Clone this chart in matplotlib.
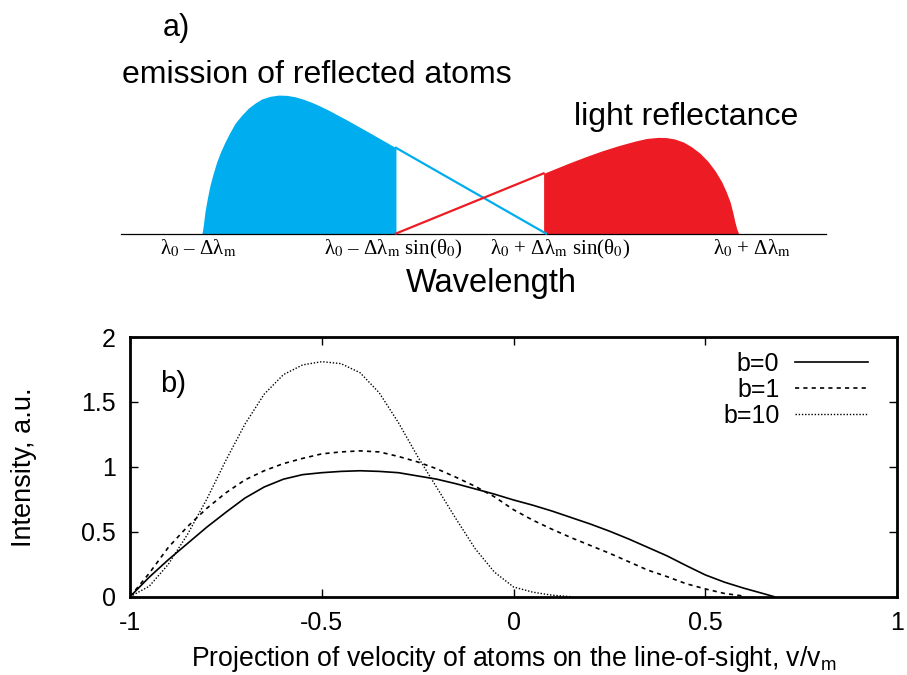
import matplotlib
matplotlib.use("Agg")
import matplotlib.pyplot as plt

plt.rcParams['font.family'] = ['Liberation Sans', 'DejaVu Sans']
plt.rcParams['mathtext.fontset'] = 'custom'
plt.rcParams['mathtext.rm'] = 'Liberation Sans'
plt.rcParams['mathtext.it'] = 'Liberation Sans:italic'

# ---- panel a: schematic (wavelength in units of dlambda_m, intensity normalised) ----
blue_u = [-1.0, -0.995, -0.989, -0.980, -0.970, -0.958, -0.945, -0.930, -0.914,
          -0.896, -0.877, -0.853, -0.828, -0.803, -0.778, -0.747, -0.716, -0.685,
          -0.654, -0.623, -0.592, -0.561, -0.530, -0.468, -0.406, -0.344, -0.279]
blue_v = [0.0, 0.06, 0.157, 0.255, 0.349, 0.435, 0.517, 0.592, 0.660,
          0.728, 0.793, 0.850, 0.901, 0.938, 0.968, 0.987, 0.996, 0.994,
          0.984, 0.966, 0.944, 0.917, 0.888, 0.824, 0.757, 0.689, 0.617]
red_u = [0.270, 0.362, 0.424, 0.486, 0.548, 0.610, 0.653, 0.696, 0.727, 0.758, 0.790,
         0.820, 0.852, 0.882, 0.908, 0.932, 0.949, 0.963, 0.973, 0.981, 0.988, 0.995]
red_v = [0.433, 0.505, 0.551, 0.594, 0.632, 0.665, 0.684, 0.692, 0.690, 0.680, 0.658,
         0.624, 0.577, 0.517, 0.450, 0.373, 0.300, 0.229, 0.155, 0.085, 0.035, 0.0]
sin_theta0 = 0.279
wl_labels = [r'λ$_0$ – Δλ$_\mathrm{m}$',
             r'λ$_0$ – Δλ$_\mathrm{m}$ sin(θ$_0$)',
             r'λ$_0$ + Δλ$_\mathrm{m}$ sin(θ$_0$)',
             r'λ$_0$ + Δλ$_\mathrm{m}$']

# ---- panel b: line-of-sight velocity profiles ----
x0 = [-1.0, -0.95, -0.9, -0.85, -0.8, -0.75, -0.7, -0.65, -0.6, -0.55, -0.5, -0.45,
      -0.4, -0.35, -0.3, -0.25, -0.2, -0.15, -0.1, -0.05, 0.0, 0.05, 0.1, 0.15, 0.2,
      0.25, 0.3, 0.35, 0.4, 0.45, 0.5, 0.55, 0.6, 0.65, 0.68]
b0 = [0.0, 0.15, 0.285, 0.41, 0.535, 0.65, 0.76, 0.845, 0.905, 0.94, 0.955, 0.965,
      0.97, 0.965, 0.955, 0.93, 0.905, 0.87, 0.83, 0.79, 0.745, 0.705, 0.66, 0.61, 0.56,
      0.505, 0.445, 0.38, 0.315, 0.24, 0.168, 0.112, 0.066, 0.025, 0.0]
x1 = [-1.0, -0.95, -0.9, -0.85, -0.8, -0.75, -0.7, -0.65, -0.6, -0.55, -0.5, -0.45,
      -0.4, -0.35, -0.3, -0.25, -0.2, -0.15, -0.1, -0.05, 0.0, 0.05, 0.1, 0.15, 0.2,
      0.25, 0.3, 0.35, 0.4, 0.45, 0.5, 0.55, 0.6]
b1 = [0.0, 0.18, 0.38, 0.54, 0.68, 0.80, 0.90, 0.97, 1.025, 1.065, 1.10, 1.115,
      1.123, 1.115, 1.08, 1.038, 0.985, 0.92, 0.85, 0.77, 0.67, 0.59, 0.52, 0.455, 0.395,
      0.335, 0.27, 0.205, 0.155, 0.10, 0.06, 0.025, 0.005]
x10 = [-1.0, -0.95, -0.9, -0.85, -0.8, -0.75, -0.7, -0.65, -0.6, -0.55, -0.5, -0.45,
       -0.4, -0.35, -0.3, -0.25, -0.2, -0.15, -0.1, -0.05, 0.0, 0.05, 0.1, 0.15]
b10 = [0.0, 0.08, 0.25, 0.48, 0.75, 1.05, 1.33, 1.56, 1.71, 1.785, 1.81, 1.795,
       1.725, 1.57, 1.34, 1.08, 0.84, 0.6, 0.37, 0.19, 0.075, 0.035, 0.012, 0.0]

fig = plt.figure(figsize=(9.07, 6.75), dpi=100)

# schematic
axa = fig.add_axes([0, 1 - 300 / 675, 1, 300 / 675])
axa.set_xlim(-1.751, 1.621)
axa.set_ylim(-0.478, 1.680)
axa.axis('off')
axa.plot([-1.30, 1.32], [0, 0], color='black', lw=0.9)
axa.fill_between(blue_u, 0, blue_v, color='#00aeef', lw=0)
axa.plot([blue_u[-1], sin_theta0], [blue_v[-1], 0], color='#00aeef', lw=1.6)
axa.fill_between(red_u, 0, red_v, color='#ed1c24', lw=0)
axa.plot([-sin_theta0, red_u[0]], [0, red_v[0]], color='#ed1c24', lw=1.6)
# label anchors sit a little right of the marked wavelengths, as in the sketch
label_u = [-1.015, -0.29, 0.33, 1.045]
for u, lab in zip(label_u, wl_labels):
    axa.text(u, -0.03, lab, ha='center', va='top', fontsize=15,
             family='Liberation Serif', math_fontfamily='stix')
axa.text(-1.097, 1.478, 'a)', ha='center', va='center', fontsize=22)
axa.text(-0.572, 1.14, 'emission of reflected atoms', ha='center', va='center', fontsize=23)
axa.text(0.801, 0.84, 'light reflectance', ha='center', va='center', fontsize=23)
axa.text(0.074, -0.36, 'Wavelength', ha='center', va='center', fontsize=23.5)

# plot b
ax = fig.add_axes([130 / 907, 1 - 596.7 / 675, 767 / 907, 259.7 / 675])
ax.plot(x0, b0, color='black', lw=1.2, label='b=0')
ax.plot(x1, b1, color='black', lw=1.2, ls=(0, (2.5, 2.5)), label='b=1')
ax.plot(x10, b10, color='black', lw=1.0, ls=(0, (1, 1.3)), label='b=10')
ax.set_xlim(-1, 1)
ax.set_ylim(0, 2)
ax.set_xticks([-1, -0.5, 0, 0.5, 1])
ax.set_xticklabels(['-1', '-0.5', '0', '0.5', '1'])
ax.set_yticks([0, 0.5, 1, 1.5, 2])
ax.set_yticklabels(['0', '0.5', '1', '1.5', '2'])
ax.tick_params(direction='in', length=6, width=1, top=True, right=True,
               labelsize=18, pad=10)
for s in ax.spines.values():
    s.set_linewidth(2)
ax.set_xlabel('Projection of velocity of atoms on the line-of-sight, v/v$_\\mathrm{m}$',
              fontsize=19.2, labelpad=7)
ax.set_ylabel('Intensity, a.u.', fontsize=19.5)
ax.yaxis.set_label_coords(-0.121, 0.5)
ax.text(0.039, 0.82, 'b)', transform=ax.transAxes, ha='left', va='center', fontsize=21)
ax.legend(loc='upper right', bbox_to_anchor=(0.962, 0.942), markerfirst=False,
          frameon=False, fontsize=18, handlelength=2.9, handletextpad=0.64,
          labelspacing=0.08, borderaxespad=0, borderpad=0)

fig.savefig('out.png', dpi=100)
